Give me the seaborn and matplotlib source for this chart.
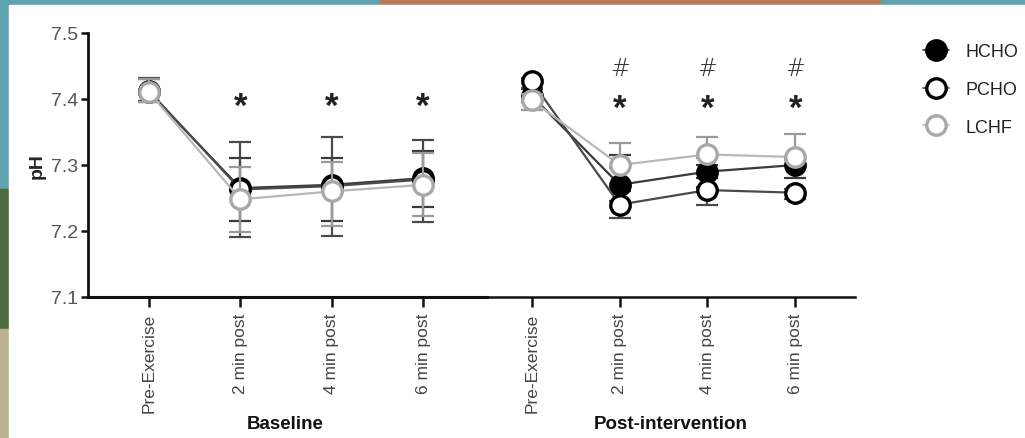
import numpy as np
import pandas as pd
import seaborn as sns
import matplotlib
matplotlib.use("Agg")
import matplotlib.pyplot as plt
from matplotlib.patches import Rectangle
from matplotlib.lines import Line2D

# ---------------- data ----------------
timepoints = ["Pre-Exercise", "2 min post", "4 min post", "6 min post"]
series = ["HCHO", "PCHO", "LCHF"]

base_HCHO = [7.410, 7.265, 7.270, 7.280]
base_PCHO = [7.412, 7.263, 7.268, 7.278]
base_LCHF = [7.410, 7.248, 7.260, 7.270]
base_HCHO_lo = [0.015, 0.050, 0.055, 0.044]
base_HCHO_hi = [0.020, 0.046, 0.041, 0.041]
base_PCHO_lo = [0.015, 0.072, 0.075, 0.065]
base_PCHO_hi = [0.020, 0.072, 0.074, 0.060]
base_LCHF_lo = [0.015, 0.050, 0.052, 0.047]
base_LCHF_hi = [0.020, 0.049, 0.045, 0.048]

post_HCHO = [7.405, 7.270, 7.290, 7.300]
post_PCHO = [7.427, 7.240, 7.262, 7.258]
post_LCHF = [7.398, 7.300, 7.316, 7.312]
post_HCHO_lo = [0.010, 0.010, 0.010, 0.020]
post_HCHO_hi = [0.010, 0.045, 0.010, 0.010]
post_PCHO_lo = [0.010, 0.020, 0.022, 0.010]
post_PCHO_hi = [0.005, 0.005, 0.005, 0.005]
post_LCHF_lo = [0.015, 0.005, 0.005, 0.005]
post_LCHF_hi = [0.010, 0.033, 0.027, 0.035]

star_level = 7.389
hash_level = 7.447

panel_titles = ["Baseline", "Post-intervention"]

# ---------------- style ----------------
sns.set_theme(style="ticks")
plt.rcParams["font.family"] = ["Liberation Sans", "DejaVu Sans"]

W, H = 1025, 439
fig = plt.figure(figsize=(W / 100, H / 100), dpi=100)
fig.patch.set_facecolor("#5fa3b0")

def px_rect(x0, y0, x1, y1, color, z=0):
    fig.patches.append(Rectangle((x0 / W, 1 - y1 / H), (x1 - x0) / W, (y1 - y0) / H,
                                 transform=fig.transFigure, color=color, zorder=z))

px_rect(380, 0, 880, 6, "#b97a55")
px_rect(0, 190, 9, 330, "#4e6b40")
px_rect(0, 330, 9, 439, "#b9b38d")
px_rect(9, 6, W, H, "white", z=1)

styles = {
    "HCHO": dict(mfc="black", mec="black", lc="#3a3a3a", ec="#3a3a3a"),
    "PCHO": dict(mfc="white", mec="black", lc="#4a4a4a", ec="#4a4a4a"),
    "LCHF": dict(mfc="white", mec="#a8a8a8", lc="#b8b8b8", ec="#9a9a9a"),
}

def make_ax(x0, x1, left_spine, lw):
    ax = fig.add_axes([x0 / W, 1 - 298 / H, (x1 - x0) / W, (298 - 34) / H])
    ax.set_facecolor("none")
    ax.set_zorder(3)
    ax.set_ylim(7.1, 7.5)
    sns.despine(ax=ax, left=not left_spine)
    ax.spines["bottom"].set_linewidth(lw)
    ax.spines["bottom"].set_color("#111111")
    if left_spine:
        ax.spines["left"].set_linewidth(2.0)
        ax.spines["left"].set_color("#111111")
        ax.set_yticks([7.1, 7.2, 7.3, 7.4, 7.5])
        ax.set_yticklabels(["7.1", "7.2", "7.3", "7.4", "7.5"])
        ax.tick_params(axis="y", length=5, width=1.8, color="#111111",
                       labelsize=14, labelcolor="#555555", pad=2)
    else:
        ax.set_yticks([])
    ax.tick_params(axis="x", length=7, width=1.8, color="#111111",
                   labelsize=12.5, labelcolor="#444444", pad=4)
    return ax

ax1 = make_ax(88, 487, True, 2.2)
ax2 = make_ax(487, 855, False, 1.8)
ax1.set_xlim(-0.67, 3.70)
ax2.set_xlim(-0.51, 3.68)

panel_data = [
    (ax1, {"HCHO": (base_HCHO, base_HCHO_lo, base_HCHO_hi),
           "PCHO": (base_PCHO, base_PCHO_lo, base_PCHO_hi),
           "LCHF": (base_LCHF, base_LCHF_lo, base_LCHF_hi)}),
    (ax2, {"HCHO": (post_HCHO, post_HCHO_lo, post_HCHO_hi),
           "PCHO": (post_PCHO, post_PCHO_lo, post_PCHO_hi),
           "LCHF": (post_LCHF, post_LCHF_lo, post_LCHF_hi)}),
]

order = ["HCHO", "PCHO", "LCHF"]
zbase = {"HCHO": 2, "PCHO": 4, "LCHF": 6}
xs = np.arange(len(timepoints))
for ax, dd in panel_data:
    for name in order:
        vals, lo, hi = dd[name]
        st = styles[name]
        ax.errorbar(xs, vals, yerr=[lo, hi], fmt="none", ecolor=st["ec"],
                    elinewidth=1.6, capsize=8, capthick=1.6, zorder=zbase[name])
        df = pd.DataFrame({"t": xs, "pH": vals})
        sns.lineplot(data=df, x="t", y="pH", ax=ax, color=st["lc"], linewidth=1.6,
                     marker="o", markersize=14, markerfacecolor=st["mfc"],
                     markeredgecolor=st["mec"], markeredgewidth=2.4,
                     zorder=zbase[name] + 1, legend=False)
    ax.set_xticks(xs)
    ax.set_xticklabels(timepoints, rotation=90)
    ax.set_xlabel("")
    ax.set_ylabel("")
    ax.set_ylim(7.1, 7.5)

# significance marks
for i in range(1, 4):
    ax1.text(i, star_level, "*", ha="center", va="center", fontsize=25, color="#222222",
             fontweight="bold")
    ax2.text(i, star_level - 0.003, "*", ha="center", va="center", fontsize=25,
             color="#222222", fontweight="bold")
    ax2.text(i, hash_level, "#", ha="center", va="center", fontsize=17, color="#333333",
             family=["DejaVu Sans"], fontweight="light")

ax1.set_ylabel("pH", fontsize=14, fontweight="bold", labelpad=4)

fig.text(285 / W, 1 - 425 / H, panel_titles[0], ha="center", va="center",
         fontsize=13.5, fontweight="bold", color="#111111", zorder=5)
fig.text(671 / W, 1 - 425 / H, panel_titles[1], ha="center", va="center",
         fontsize=13.5, fontweight="bold", color="#111111", zorder=5)

# legend
handles = []
for name in series:
    st = styles[name]
    handles.append(Line2D([0], [0], color=st["lc"], linewidth=1.2, marker="o",
                          markersize=14, markerfacecolor=st["mfc"],
                          markeredgecolor=st["mec"], markeredgewidth=2.4))
leg = fig.legend(handles, series, loc="upper left",
                 bbox_to_anchor=(907 / W, 1 - 28 / H), frameon=False,
                 fontsize=13, handlelength=1.4, handletextpad=0.95,
                 labelspacing=1.15)
for t in leg.get_texts():
    t.set_color("#222222")
leg.set_zorder(6)

fig.savefig("out.png", dpi=100, facecolor=fig.get_facecolor())
